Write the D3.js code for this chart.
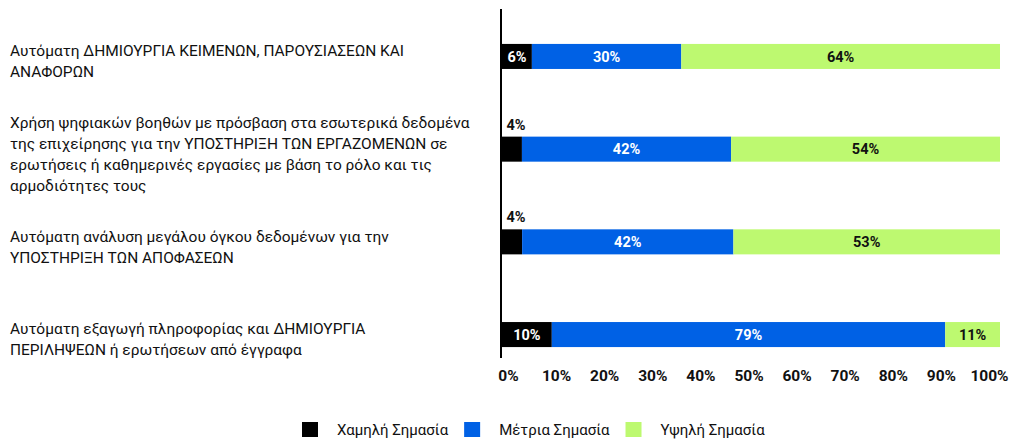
<!DOCTYPE html>
<html>
<head>
<meta charset="utf-8">
<script src="https://cdn.jsdelivr.net/npm/d3@7"></script>
<style>
  html, body { margin: 0; padding: 0; background: #fff; }
  svg { display: block; }
</style>
</head>
<body>
<svg id="chart" width="1009" height="439"></svg>
<script>
// ---------- data ----------
const categories = [
  ["Αυτόματη ΔΗΜΙΟΥΡΓΙΑ ΚΕΙΜΕΝΩΝ, ΠΑΡΟΥΣΙΑΣΕΩΝ ΚΑΙ", "ΑΝΑΦΟΡΩΝ"],
  ["Χρήση ψηφιακών βοηθών με πρόσβαση στα εσωτερικά δεδομένα",
   "της επιχείρησης για την ΥΠΟΣΤΗΡΙΞΗ ΤΩΝ ΕΡΓΑΖΟΜΕΝΩΝ σε",
   "ερωτήσεις ή καθημερινές εργασίες με βάση το ρόλο και τις",
   "αρμοδιότητες τους"],
  ["Αυτόματη ανάλυση μεγάλου όγκου δεδομένων για την", "ΥΠΟΣΤΗΡΙΞΗ ΤΩΝ ΑΠΟΦΑΣΕΩΝ"],
  ["Αυτόματη εξαγωγή πληροφορίας και ΔΗΜΙΟΥΡΓΙΑ", "ΠΕΡΙΛΗΨΕΩΝ ή ερωτήσεων από έγγραφα"]
];
const seriesNames = ["Χαμηλή Σημασία", "Μέτρια Σημασία", "Υψηλή Σημασία"];
const lowValues  = [6, 4, 4, 10];
const midValues  = [30, 42, 42, 79];
const highValues = [64, 54, 53, 11];
const tickValues = [0, 10, 20, 30, 40, 50, 60, 70, 80, 90, 100];
const colors = ["#000000", "#0061E5", "#BDF970"];
const labelColors = ["#ffffff", "#ffffff", "#111111"];

// ---------- build ----------
const svg = d3.select("#chart");
const FONT = "Roboto, 'Liberation Sans', sans-serif";

const keys = ["low", "mid", "high"];
const rows = categories.map((c, i) => {
  const raw = { low: lowValues[i], mid: midValues[i], high: highValues[i] };
  const tot = raw.low + raw.mid + raw.high;
  return {
    id: i, lines: c, raw,
    low: raw.low / tot * 100, mid: raw.mid / tot * 100, high: raw.high / tot * 100
  };
});

const x = d3.scaleLinear().domain([0, 100]).range([502, 1000]);
const xTicks = d3.scaleLinear().domain([0, 100]).range([508, 989]);
const y = d3.scaleBand().domain(rows.map(r => r.id)).range([10, 381])
  .paddingInner(0.73).paddingOuter(0.366);

const stack = d3.stack().keys(keys);
const stacked = stack(rows);

// bars
const layers = svg.append("g").selectAll("g").data(stacked).join("g")
  .attr("fill", (d, i) => colors[i]);
layers.selectAll("rect").data(d => d).join("rect")
  .attr("x", d => x(d[0]))
  .attr("y", d => y(d.data.id))
  .attr("width", d => x(d[1]) - x(d[0]))
  .attr("height", y.bandwidth());

// bar value labels
stacked.forEach((layer, li) => {
  svg.append("g").selectAll("text").data(layer).join("text")
    .attr("font-family", FONT)
    .attr("font-size", 14.5)
    .attr("font-weight", 700)
    .attr("text-anchor", "middle")
    .each(function (d) {
      const v = d.data.raw[keys[li]];
      const w = x(d[1]) - x(d[0]);
      const cx = (x(d[0]) + x(d[1])) / 2;
      const t = d3.select(this).text(v + "%");
      if (w < 26) {
        t.attr("x", cx + 4).attr("y", y(d.data.id) - 7).attr("fill", "#111");
      } else {
        t.attr("x", cx).attr("y", y(d.data.id) + y.bandwidth() / 2).attr("dy", "0.36em")
          .attr("fill", labelColors[li]);
      }
    });
});

// vertical axis line
svg.append("line")
  .attr("x1", x(0) - 1).attr("x2", x(0) - 1)
  .attr("y1", 9).attr("y2", 358)
  .attr("stroke", "#000").attr("stroke-width", 2);

// x tick labels
const xAxis = d3.axisBottom(xTicks).tickValues(tickValues).tickSize(0).tickPadding(0)
  .tickFormat(d => d + "%");
const gx = svg.append("g").attr("transform", "translate(0,370)").call(xAxis);
gx.select(".domain").remove();
gx.selectAll("text")
  .attr("font-family", FONT).attr("font-size", 15.5).attr("font-weight", 700)
  .attr("fill", "#111").attr("dy", "0.71em");

// category labels
const labelG = svg.append("g");
const LH = 21;
const cats = labelG.selectAll("text").data(rows).join("text")
  .attr("font-family", FONT).attr("fill", "#111")
  .attr("font-size", 14);
cats.each(function (r) {
  const t = d3.select(this);
  const n = r.lines.length;
  const cy = y(r.id) + y.bandwidth() / 2 + 5;
  r.lines.forEach((ln, k) => {
    t.append("tspan").attr("x", 10)
      .attr("y", cy + (k - (n - 1) / 2) * LH)
      .attr("dy", "0.35em")
      .text(ln);
  });
});
// fit the longest line to the reference width
const probe = cats.filter(r => r.id === 1).select("tspan").node();
const w0 = probe.getComputedTextLength();
const fs = 14 * 460 / w0;
cats.attr("font-size", fs);

// legend
const legend = svg.append("g");
let lx = 302;
seriesNames.forEach((name, i) => {
  legend.append("rect").attr("x", lx).attr("y", 422).attr("width", 16).attr("height", 15)
    .attr("fill", colors[i]);
  const t = legend.append("text").attr("x", lx + 35).attr("y", 430).attr("dy", "0.35em")
    .attr("font-family", FONT).attr("font-size", 15).attr("fill", "#111").text(name);
  lx = lx + 35 + t.node().getComputedTextLength() + 16;
});
</script>
</body>
</html>
